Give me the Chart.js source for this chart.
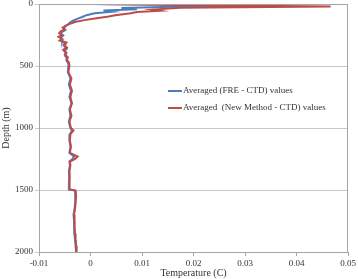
<!DOCTYPE html>
<html>
<head>
<meta charset="utf-8">
<script src="https://cdn.jsdelivr.net/npm/chart.js@4.4.1/dist/chart.umd.min.js"></script>
<style>
  body { margin: 0; background: #fff; }
  #wrap { position: relative; width: 358px; height: 279px; }
  #legend { position: absolute; left: 168px; top: 84px; font-family: "Liberation Serif", serif; font-size: 9px; color: #333; }
  #legend div { height: 17px; line-height: 12px; white-space: pre; }
  #legend span { display: inline-block; width: 14px; height: 2px; vertical-align: middle; margin-right: 1px; }
</style>
</head>
<body>
<div id="wrap">
  <canvas id="myChart" width="358" height="279"></canvas>
  <div id="legend">
    <div><span style="background:#4a7ebb"></span>Averaged (FRE - CTD) values</div>
    <div><span style="background:#be4b48"></span>Averaged  (New Method - CTD) values</div>
  </div>
</div>
<script>
// depth (m) and averaged temperature differences (C)
var depthFre = [0, 12, 22, 32, 42, 52, 62, 75, 90, 105, 120, 135, 150, 165, 180, 195, 210, 225, 240, 255, 270, 285, 300, 320, 340, 360, 380, 400, 420, 440, 460, 480, 500, 550, 600, 650, 700, 750, 800, 850, 900, 950, 1000, 1020, 1050, 1100, 1150, 1200, 1230, 1250, 1270, 1300, 1350, 1400, 1450, 1495, 1505, 1550, 1600, 1650, 1700, 1750, 1800, 1850, 1900, 1950, 2000];
var tempFre = [0.0002, 0.0340, 0.0160, 0.0060, 0.0090, 0.0025, 0.0042, 0.0008, -0.0008, -0.0016, -0.0026, -0.0034, -0.0040, -0.0044, -0.0049, -0.0052, -0.0049, -0.0055, -0.0058, -0.0053, -0.0058, -0.0054, -0.0055, -0.0048, -0.0051, -0.0046, -0.0051, -0.0047, -0.0049, -0.0045, -0.0046, -0.0043, -0.0043, -0.0044, -0.0039, -0.0042, -0.0038, -0.0041, -0.0037, -0.0041, -0.0039, -0.0042, -0.0039, -0.0036, -0.0040, -0.0041, -0.0039, -0.0041, -0.0032, -0.0035, -0.0041, -0.0040, -0.0042, -0.0041, -0.0042, -0.0042, -0.0030, -0.0029, -0.0030, -0.0031, -0.0033, -0.0032, -0.0032, -0.0031, -0.0030, -0.0029, -0.0028];

var depthNew = [0, 20, 30, 45, 55, 65, 75, 90, 100, 115, 130, 145, 160, 175, 190, 205, 220, 235, 250, 265, 280, 295, 310, 330, 350, 370, 390, 410, 430, 450, 470, 500, 550, 600, 650, 700, 750, 800, 850, 900, 950, 1000, 1020, 1050, 1100, 1150, 1200, 1230, 1250, 1270, 1300, 1350, 1400, 1450, 1495, 1505, 1550, 1600, 1650, 1700, 1750, 1800, 1850, 1900, 1950, 2000];
var tempNew = [0.0003, 0.0466, 0.0175, 0.0120, 0.0135, 0.0090, 0.0078, 0.0048, 0.0035, 0.0012, -0.0012, -0.0030, -0.0040, -0.0048, -0.0054, -0.0050, -0.0058, -0.0061, -0.0055, -0.0062, -0.0056, -0.0060, -0.0047, -0.0052, -0.0046, -0.0053, -0.0047, -0.0050, -0.0044, -0.0047, -0.0042, -0.0041, -0.0043, -0.0037, -0.0040, -0.0036, -0.0039, -0.0036, -0.0040, -0.0037, -0.0041, -0.0038, -0.0033, -0.0039, -0.0040, -0.0038, -0.0040, -0.0025, -0.0030, -0.0040, -0.0039, -0.0041, -0.0040, -0.0041, -0.0041, -0.0029, -0.0028, -0.0029, -0.0030, -0.0032, -0.0031, -0.0031, -0.0030, -0.0029, -0.0028, -0.0027];

var xTicks = [-0.01, 0, 0.01, 0.02, 0.03, 0.04, 0.05];
var yTicks = [0, 500, 1000, 1500, 2000];

function pts(d, t) {
    var out = [];
    for (var i = 0; i < d.length; i++) out.push({ x: t[i], y: d[i] });
    return out;
}

var frame = {
    id: 'frame',
    afterDraw: function (chart) {
        var a = chart.chartArea, c = chart.ctx;
        c.save();
        c.strokeStyle = '#a6a6a6';
        c.lineWidth = 1;
        c.strokeRect(Math.round(a.left) + 0.5, Math.round(a.top) + 0.5, Math.round(a.right - a.left) - 1, Math.round(a.bottom - a.top));
        c.restore();
    }
};

var fnt = { family: 'Liberation Serif', size: 9 };

new Chart(document.getElementById('myChart'), {
    type: 'scatter',
    data: {
        datasets: [{
            label: 'Averaged (FRE - CTD) values',
            data: pts(depthFre, tempFre),
            showLine: true,
            borderColor: '#4a7ebb',
            borderWidth: 2,
            pointRadius: 0,
            order: 1
        }, {
            label: 'Averaged  (New Method - CTD) values',
            data: pts(depthNew, tempNew),
            showLine: true,
            borderColor: '#be4b48',
            borderWidth: 2,
            pointRadius: 0,
            order: 0
        }]
    },
    plugins: [frame],
    options: {
        responsive: false,
        animation: false,
        layout: { padding: { top: 4, right: 9, left: 0, bottom: 0 } },
        plugins: { legend: { display: false }, tooltip: { enabled: false } },
        scales: {
            x: {
                type: 'linear',
                min: -0.01,
                max: 0.05,
                afterBuildTicks: function (s) { s.ticks = xTicks.map(function (v) { return { value: v }; }); },
                afterFit: function (s) { s.height = 27; },
                ticks: {
                    font: fnt, color: '#333', padding: 2, maxRotation: 0,
                    callback: function (v) { return v === 0 ? '0' : String(parseFloat(v.toFixed(2))); }
                },
                grid: { drawOnChartArea: false, tickLength: 4, color: '#a6a6a6' },
                border: { color: '#a6a6a6' },
                title: { display: true, text: 'Temperature (C)', font: { family: 'Liberation Serif', size: 10 }, color: '#333', padding: 0 }
            },
            y: {
                type: 'linear',
                reverse: true,
                min: 0,
                max: 2000,
                afterBuildTicks: function (s) { s.ticks = yTicks.map(function (v) { return { value: v }; }); },
                ticks: { font: fnt, color: '#333', padding: 2, callback: function (v) { return String(v); } },
                afterFit: function (s) { s.width = 39; s.paddingTop = 0; s.paddingBottom = 0; },
                grid: { color: '#c8c8c8', tickLength: 4 },
                border: { color: '#a6a6a6' },
                title: { display: true, text: 'Depth (m)', font: { family: 'Liberation Serif', size: 10 }, color: '#333', padding: 0 }
            }
        }
    }
});
</script>
</body>
</html>
